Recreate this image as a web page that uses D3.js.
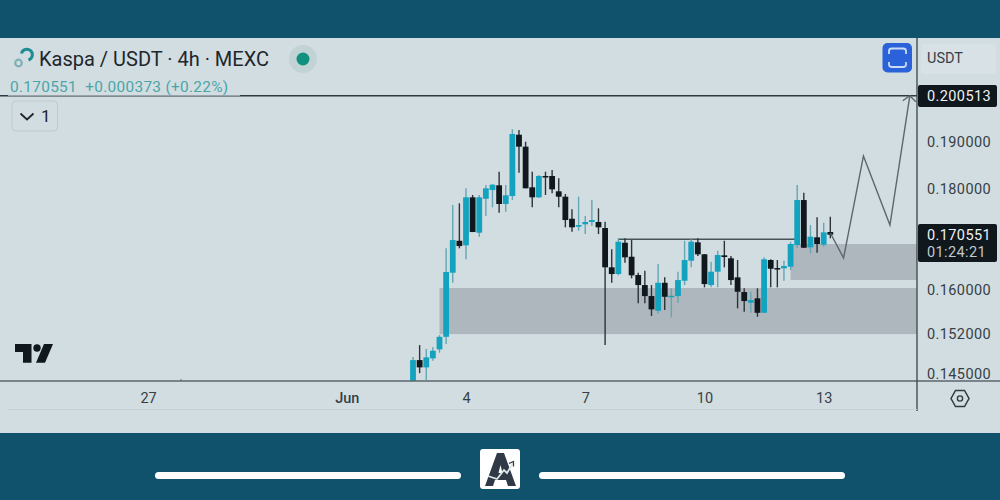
<!DOCTYPE html>
<html>
<head>
<meta charset="utf-8">
<script src="https://cdnjs.cloudflare.com/ajax/libs/d3/7.8.5/d3.min.js"></script>
<style>
  html, body { margin: 0; padding: 0; background: #10526c; }
  svg { display: block; font-family: Roboto, sans-serif; }
</style>
</head>
<body>
<svg id="chart" width="1000" height="500"></svg>
<script>
// 4h candles, oldest first
const firstCandle = new Date(Date.UTC(2024, 5, 2, 16));
const highs = [0.14789,0.14997,0.14927,0.14962,0.15172,0.16786,0.17655,0.1769,0.18002,0.17862,0.17862,0.18071,0.18092,0.18354,0.18071,0.19284,0.19268,0.19006,0.18354,0.18283,0.18354,0.1839,0.18213,0.17883,0.17566,0.17827,0.1743,0.17758,0.17587,0.17315,0.16767,0.16983,0.16983,0.16949,0.16316,0.16354,0.16083,0.16482,0.16228,0.16022,0.16335,0.16935,0.16963,0.16983,0.16675,0.16526,0.16739,0.16935,0.16637,0.16559,0.16022,0.15958,0.16022,0.16611,0.16573,0.16559,0.16546,0.16916,0.18071,0.1791,0.17248,0.17403,0.17295,0.17416];
const opens = [0.14313,0.14737,0.14612,0.14766,0.14922,0.15142,0.16316,0.16935,0.16845,0.17814,0.17094,0.17785,0.17966,0.18065,0.17676,0.17841,0.19162,0.18897,0.18023,0.17814,0.18262,0.18262,0.17939,0.17827,0.17375,0.17214,0.17263,0.17309,0.17309,0.17188,0.16419,0.16291,0.16896,0.16623,0.16272,0.16083,0.15878,0.15608,0.16126,0.1586,0.15878,0.16164,0.16546,0.16904,0.1667,0.16083,0.16335,0.1665,0.16592,0.16228,0.15953,0.15755,0.15836,0.15572,0.16559,0.16405,0.164,0.1643,0.16851,0.17758,0.16806,0.17003,0.16857,0.17108];
const closes = [0.14737,0.14612,0.14784,0.14898,0.15142,0.16329,0.16949,0.16831,0.17814,0.17108,0.17814,0.18002,0.18078,0.17676,0.17856,0.19178,0.18897,0.18002,0.17814,0.18262,0.18235,0.17981,0.17827,0.17349,0.17202,0.17248,0.17309,0.17349,0.17202,0.16419,0.16291,0.16916,0.16611,0.16266,0.16083,0.15878,0.15634,0.16126,0.15865,0.15884,0.16177,0.16559,0.16916,0.1667,0.16102,0.16335,0.16656,0.16617,0.16177,0.15958,0.15786,0.15804,0.15572,0.16573,0.16392,0.16386,0.16444,0.16871,0.17758,0.16798,0.17015,0.1687,0.17102,0.170551];
const lows = [0.1423,0.14515,0.14397,0.14725,0.14863,0.15014,0.16126,0.16786,0.16573,0.17108,0.17015,0.1743,0.17608,0.17497,0.17517,0.17758,0.18332,0.18002,0.17608,0.17799,0.17862,0.17897,0.17608,0.17202,0.17114,0.17134,0.17068,0.17228,0.17068,0.14997,0.16126,0.16266,0.16507,0.16209,0.15744,0.15744,0.15512,0.15549,0.15621,0.15489,0.15755,0.16083,0.16419,0.16637,0.1604,0.1604,0.1604,0.16419,0.16083,0.15652,0.1559,0.15572,0.155,0.15572,0.1604,0.1604,0.16164,0.16367,0.16792,0.16792,0.16689,0.167,0.16818,0.16983];

// stray wick that just reaches into the pane
const strayTime = new Date(Date.UTC(2024, 4, 27, 20));
const strayHigh = 0.1441;

// drawings
const zoneTop = [0.16027, 0.16871];
const zoneBottom = [0.1519, 0.16177];
const zoneStart = [new Date(Date.UTC(2024, 5, 3, 8)), new Date(Date.UTC(2024, 5, 12, 4))];
const levelPrice = 0.16965;
const levelStart = new Date(Date.UTC(2024, 5, 7, 20));
const levelEnd = new Date(Date.UTC(2024, 5, 12, 8));
const forecastTimes = [new Date(Date.UTC(2024, 5, 13, 4)), new Date(Date.UTC(2024, 5, 13, 12)), new Date(Date.UTC(2024, 5, 14, 0)), new Date(Date.UTC(2024, 5, 14, 16)), new Date(Date.UTC(2024, 5, 15, 4))];
const forecastPrices = [0.17088, 0.16598, 0.18693, 0.17248, 0.200513];

// axes
const priceTicks = [0.19, 0.18, 0.16, 0.152, 0.145];
const dateTicks = [new Date(Date.UTC(2024, 4, 27)), new Date(Date.UTC(2024, 5, 1)), new Date(Date.UTC(2024, 5, 4)), new Date(Date.UTC(2024, 5, 7)), new Date(Date.UTC(2024, 5, 10)), new Date(Date.UTC(2024, 5, 13))];
const dateLabels = ["27", "Jun", "4", "7", "10", "13"];
const targetPrice = 0.200513;
const lastPrice = 0.170551;

const TEAL = "#14a3bf";
const DARK = "#10171d";
const PANE = "#d2dde2";

const x = d3.scaleUtc()
  .domain([new Date(Date.UTC(2024, 5, 4)), new Date(Date.UTC(2024, 5, 13))])
  .range([466, 823.7]);
const y = d3.scaleLog().domain([0.145, 0.19]).range([374, 142]);

const candles = closes.map(function (c, i) {
  return {
    t: d3.utcHour.offset(firstCandle, i * 4),
    o: opens[i], h: highs[i], l: lows[i], c: c
  };
});

const svg = d3.select("#chart");

// Background
svg.append("rect").attr("y", 38).attr("width", 1000).attr("height", 395).attr("fill", PANE);
svg.append("clipPath").attr("id", "pane")
  .append("rect").attr("y", 38).attr("width", 917).attr("height", 343);

const pane = svg.append("g").attr("clip-path", "url(#pane)");

// Zones
pane.selectAll("rect.zone")
  .data(zoneTop)
  .enter()
  .append("rect")
  .attr("class", "zone")
  .attr("x", function (d, i) { return x(zoneStart[i]); })
  .attr("y", function (d) { return y(d); })
  .attr("width", function (d, i) { return 917 - x(zoneStart[i]); })
  .attr("height", function (d, i) { return y(zoneBottom[i]) - y(d); })
  .attr("fill", "#aeb7bd");

// Target line
pane.append("line")
  .attr("x1", 0).attr("x2", 917)
  .attr("y1", y(targetPrice)).attr("y2", y(targetPrice))
  .attr("stroke", "#2c3a42").attr("stroke-width", 1.3);

// Resistance level
pane.append("line")
  .attr("x1", x(levelStart)).attr("x2", x(levelEnd))
  .attr("y1", y(levelPrice)).attr("y2", y(levelPrice))
  .attr("stroke", "#4a5358").attr("stroke-width", 1.4);

// Stray wick
pane.append("line")
  .attr("x1", x(strayTime)).attr("x2", x(strayTime))
  .attr("y1", y(strayHigh)).attr("y2", 381)
  .attr("stroke", "#5b6a72").attr("stroke-width", 1.2);

// Wicks
pane.selectAll("line.wick")
  .data(candles)
  .enter()
  .append("line")
  .attr("class", "wick")
  .attr("x1", function (d) { return x(d.t); })
  .attr("x2", function (d) { return x(d.t); })
  .attr("y1", function (d) { return y(d.h); })
  .attr("y2", function (d) { return y(d.l); })
  .attr("stroke", function (d) { return d.c >= d.o ? "#62a7b3" : "#2b3339"; })
  .attr("stroke-width", 1.4);

// Bodies
pane.selectAll("rect.body")
  .data(candles)
  .enter()
  .append("rect")
  .attr("class", "body")
  .attr("x", function (d) { return x(d.t) - 2.9; })
  .attr("y", function (d) { return y(Math.max(d.o, d.c)); })
  .attr("width", 5.8)
  .attr("height", function (d) { return Math.max(1.5, Math.abs(y(d.o) - y(d.c))); })
  .attr("fill", function (d) { return d.c >= d.o ? TEAL : DARK; });

// Forecast path
const forecastLine = d3.line()
  .x(function (d, i) { return x(forecastTimes[i]); })
  .y(function (d) { return y(d); });
pane.append("path")
  .attr("d", forecastLine(forecastPrices))
  .attr("fill", "none")
  .attr("stroke", "#5c666c")
  .attr("stroke-width", 1.4);
const tipX = x(forecastTimes[4]);
const tipY = y(forecastPrices[4]);
pane.append("path")
  .attr("d", "M" + (tipX - 7) + "," + (tipY + 5) + "L" + tipX + "," + tipY + "L" + (tipX + 6) + "," + (tipY + 6))
  .attr("fill", "none")
  .attr("stroke", "#5c666c")
  .attr("stroke-width", 1.4);

// Price axis
const yAxis = svg.append("g")
  .attr("transform", "translate(917,0)")
  .call(d3.axisRight(y).tickValues(priceTicks).tickFormat(d3.format(".6f")).tickSize(0).tickPadding(10));
yAxis.select(".domain").remove();
yAxis.selectAll("text")
  .attr("font-family", "Roboto, sans-serif")
  .attr("font-size", 14.5)
  .attr("letter-spacing", 0.4)
  .attr("fill", "#363f45");

// Time axis
const xAxis = svg.append("g")
  .attr("transform", "translate(0,381)")
  .call(d3.axisBottom(x).tickValues(dateTicks)
    .tickFormat(function (d, i) { return dateLabels[i]; })
    .tickSize(0).tickPadding(12));
xAxis.select(".domain").remove();
xAxis.selectAll("text")
  .attr("font-family", "Roboto, sans-serif")
  .attr("font-size", 14.5)
  .attr("fill", "#363f45")
  .attr("font-weight", function (d, i) { return dateLabels[i] === "Jun" ? 500 : 400; });

// Pane borders
svg.append("line").attr("x1", 0).attr("x2", 1000).attr("y1", 381).attr("y2", 381)
  .attr("stroke", "#5b656b").attr("stroke-width", 1.5);
svg.append("line").attr("x1", 917).attr("x2", 917).attr("y1", 38).attr("y2", 411)
  .attr("stroke", "#39444b").attr("stroke-width", 1.3);
svg.append("line").attr("x1", 8).attr("x2", 917).attr("y1", 409.5).attr("y2", 409.5)
  .attr("stroke", "#c6d1d6").attr("stroke-width", 1);

// Price labels
svg.append("rect").attr("x", 918).attr("y", 85).attr("width", 79).attr("height", 22).attr("rx", 2).attr("fill", DARK);
svg.append("text").attr("x", 927).attr("y", y(targetPrice) + 5.5)
  .attr("font-size", 14.5).attr("letter-spacing", 0.4).attr("fill", "#eef2f4").text(d3.format(".6f")(targetPrice));
svg.append("rect").attr("x", 918).attr("y", 224).attr("width", 79).attr("height", 38).attr("rx", 2).attr("fill", DARK);
svg.append("text").attr("x", 927).attr("y", 240)
  .attr("font-size", 14.5).attr("letter-spacing", 0.4).attr("fill", "#eef2f4").text(d3.format(".6f")(lastPrice));
svg.append("text").attr("x", 927).attr("y", 257)
  .attr("font-size", 14.5).attr("letter-spacing", 0.4).attr("fill", "#c3cacd").text("01:24:21");

// Legend
svg.append("rect").attr("x", 8).attr("y", 78).attr("width", 232).attr("height", 18).attr("fill", PANE).attr("opacity", 0.65);
svg.append("text").attr("x", 39).attr("y", 66)
  .attr("font-size", 20).attr("fill", "#20262b").text("Kaspa / USDT · 4h · MEXC");
svg.append("text").attr("x", 10).attr("y", 92)
  .attr("font-size", 15.4).attr("letter-spacing", 0.3).attr("fill", "#4aa6a6").attr("xml:space", "preserve")
  .text("0.170551  +0.000373 (+0.22%)");

// Kaspa logo
svg.append("path").attr("d", "M21.5,53.5A5.5,5.5 0 1 1 28.5,60")
  .attr("fill", "none").attr("stroke", "#1d8c93").attr("stroke-width", 3);
svg.append("circle").attr("cx", 18.5).attr("cy", 63).attr("r", 3.3)
  .attr("fill", "none").attr("stroke", "#7fb0b2").attr("stroke-width", 2.2);

// Market status dot
svg.append("circle").attr("cx", 303).attr("cy", 59).attr("r", 14).attr("fill", "#c2d3d6");
svg.append("circle").attr("cx", 303).attr("cy", 59).attr("r", 6.5).attr("fill", "#12907f");

// Collapse button
svg.append("rect").attr("x", 12).attr("y", 101).attr("width", 45.5).attr("height", 30).attr("rx", 4)
  .attr("fill", PANE).attr("stroke", "#bfc9ce");
svg.append("path").attr("d", "M20.5,113.5L27,119.5L33.5,113.5")
  .attr("fill", "none").attr("stroke", "#20262b").attr("stroke-width", 1.8);
svg.append("text").attr("x", 41).attr("y", 122).attr("font-size", 17).attr("fill", "#20262b").text("1");

// Fullscreen button
svg.append("rect").attr("x", 882.5).attr("y", 43).attr("width", 29.5).attr("height", 29.5).attr("rx", 5).attr("fill", "#2b62d9");
svg.append("path").attr("d", "M889,54V51Q889,48.5 892,48.5H903Q906,48.5 906,51V54")
  .attr("fill", "none").attr("stroke", "#c9dcf3").attr("stroke-width", 1.8);
svg.append("path").attr("d", "M889,62V64.5Q889,67 892,67H903Q906,67 906,64.5V62")
  .attr("fill", "none").attr("stroke", "#c9dcf3").attr("stroke-width", 1.8);

// Currency button
svg.append("rect").attr("x", 921).attr("y", 44).attr("width", 75).attr("height", 30).attr("rx", 4)
  .attr("fill", "#d8e1e5");
svg.append("text").attr("x", 927).attr("y", 63).attr("font-size", 14.5).attr("fill", "#363f45").text("USDT");

// Settings icon
svg.append("path").attr("d", "M951,398.5L955.5,390.5H964.5L969,398.5L964.5,406.5H955.5Z")
  .attr("fill", "none").attr("stroke", "#30393f").attr("stroke-width", 1.5);
svg.append("circle").attr("cx", 960).attr("cy", 398.5).attr("r", 2.6)
  .attr("fill", "none").attr("stroke", "#30393f").attr("stroke-width", 1.4);

// TradingView logo
svg.append("path").attr("d", "M15,344H31.5V362.7H23V352H15Z").attr("fill", DARK);
svg.append("circle").attr("cx", 37).attr("cy", 348).attr("r", 3.7).attr("fill", DARK);
svg.append("path").attr("d", "M44,344H53L45,362.7H36Z").attr("fill", DARK);

// Footer
svg.append("rect").attr("x", 155).attr("y", 472).attr("width", 306).attr("height", 7).attr("rx", 3.5).attr("fill", "#fff");
svg.append("rect").attr("x", 539).attr("y", 472).attr("width", 306).attr("height", 7).attr("rx", 3.5).attr("fill", "#fff");
svg.append("rect").attr("x", 480).attr("y", 449).attr("width", 40).attr("height", 40).attr("rx", 3).attr("fill", "#fff");
svg.append("path").attr("d", "M497,453H504L516,486H508L506,480H495L493,486H485ZM498.5,473H502.5L500.5,465Z")
  .attr("fill", "#2f3a46").attr("fill-rule", "evenodd");
svg.append("path").attr("d", "M488,476L497,479L504,470L507,473L513,463")
  .attr("fill", "none").attr("stroke", "#dfe7ea").attr("stroke-width", 1.8);
svg.append("path").attr("d", "M509,463.5L513.5,461.5L513.5,466.5").attr("fill", "none").attr("stroke", "#2f3a46").attr("stroke-width", 1.2);
</script>
</body>
</html>
